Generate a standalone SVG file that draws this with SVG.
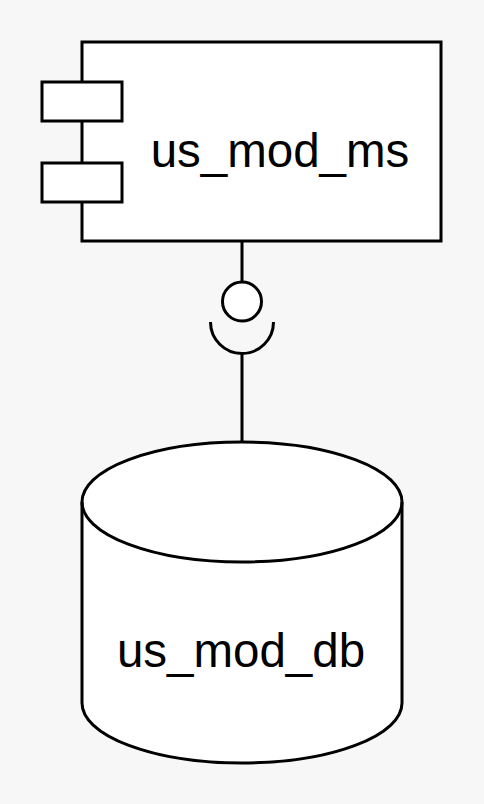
<svg xmlns="http://www.w3.org/2000/svg" width="484" height="804" viewBox="0 0 484 804">
<style>
.s{fill:#ffffff;stroke:#000000;stroke-width:3}
.l{fill:none;stroke:#000000;stroke-width:3}
.t{font-family:"Liberation Sans",Arial,sans-serif;font-size:47.5px;fill:#000000;text-anchor:middle}
</style>
<rect x="0" y="0" width="484" height="804" fill="#f7f7f7"/>
<g id="connectors">
<line class="l" x1="242" y1="241" x2="242" y2="281"/>
<line class="l" x1="242" y1="354" x2="242" y2="442"/>
</g>
<g id="interface">
<circle class="s" cx="242" cy="301.5" r="19.5"/>
<path class="l" d="M210.5 322 A31.5 31.5 0 0 0 273.5 322"/>
</g>
<g id="us_mod_ms">
<rect class="s" x="82" y="42" width="359" height="199"/>
<rect class="s" x="42" y="82" width="80" height="39"/>
<rect class="s" x="42" y="163" width="80" height="39"/>
<text class="t" x="280" y="167">us_mod_ms</text>
</g>
<g id="us_mod_db">
<path class="s" d="M82 502 A160 60 0 0 1 402 502 L402 703 A160 60 0 0 1 82 703 Z"/>
<path class="l" d="M82 502 A160 60 0 0 0 402 502"/>
<text class="t" x="241" y="667">us_mod_db</text>
</g>
</svg>
